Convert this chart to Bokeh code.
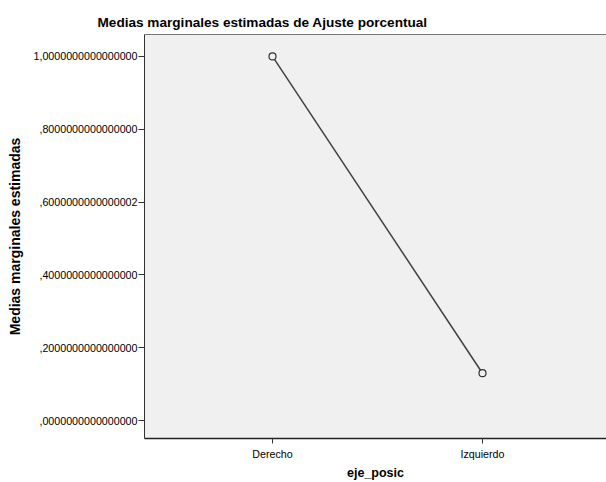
from bokeh.plotting import figure
from bokeh.models import FixedTicker, Range1d, LinearAxis, ColumnDataSource
from bokeh.embed import file_html
from bokeh.resources import INLINE

categories = ["Derecho", "Izquierdo"]
means = [1.0, 0.13]
y_ticks = [0.0, 0.2, 0.4, 0.6, 0.8, 1.0]
y_tick_labels = [",0000000000000000", ",2000000000000000", ",4000000000000000",
                 ",6000000000000002", ",8000000000000000", "1,0000000000000000"]

xpos = list(range(len(categories)))
src = ColumnDataSource(data=dict(x=xpos, y=means, cat=categories))

fam = "Liberation Sans"
p = figure(width=606, height=482, output_backend="svg", toolbar_location=None,
           x_range=Range1d(-0.6095, 1.5905), y_range=Range1d(-0.0493, 1.0603),
           min_border_left=144, min_border_right=0, min_border_top=34, min_border_bottom=43)
p.background_fill_color = "#f0f0f0"
p.border_fill_color = "white"
p.outline_line_color = None
p.xgrid.visible = False
p.ygrid.visible = False

p.title.text = "Medias marginales estimadas de Ajuste porcentual"
p.title.text_font = fam
p.title.text_font_style = "bold"
p.title.text_font_size = "13.6px"
p.title.text_color = "#000000"
p.title.align = "left"
p.title.offset = -47

p.line("x", "y", source=src, line_color="#404040", line_width=1.5)
p.scatter("x", "y", source=src, size=7, fill_color="#f0f0f0", line_color="#333333", line_width=1.2)

p.yaxis.ticker = FixedTicker(ticks=y_ticks)
p.yaxis.major_label_overrides = {t: l for t, l in zip(y_ticks, y_tick_labels)}
p.yaxis.minor_tick_line_color = None
p.yaxis.major_tick_in = 0
p.yaxis.major_tick_out = 6
p.yaxis.major_label_standoff = 1
p.yaxis.major_label_text_font = fam
p.yaxis.major_label_text_font_size = "10.7px"
p.yaxis.major_label_text_color = "#000000"
p.yaxis.axis_line_color = "#333333"
p.yaxis.major_tick_line_color = "#333333"
p.yaxis.axis_label = "Medias marginales estimadas"
p.yaxis.axis_label_text_font = fam
p.yaxis.axis_label_text_font_style = "bold"
p.yaxis.axis_label_text_font_size = "14px"
p.yaxis.axis_label_text_color = "#000000"
p.yaxis.axis_label_standoff = 7

p.xaxis.ticker = FixedTicker(ticks=xpos)
p.xaxis.major_label_overrides = {i: c for i, c in zip(xpos, categories)}
p.xaxis.minor_tick_line_color = None
p.xaxis.major_tick_in = 0
p.xaxis.major_tick_out = 5
p.xaxis.major_label_standoff = 4
p.xaxis.major_label_text_font = fam
p.xaxis.major_label_text_font_size = "10.7px"
p.xaxis.major_label_text_color = "#000000"
p.xaxis.axis_line_color = "#222222"
p.xaxis.axis_line_width = 1.5
p.xaxis.major_tick_line_color = "#333333"
p.xaxis.axis_label = "eje_posic"
p.xaxis.axis_label_text_font = fam
p.xaxis.axis_label_text_font_style = "bold"
p.xaxis.axis_label_text_font_size = "12.5px"
p.xaxis.axis_label_text_color = "#000000"
p.xaxis.axis_label_standoff = 3

top = LinearAxis(major_tick_line_color=None, minor_tick_line_color=None,
                 major_label_text_font_size="0px", axis_line_color="#777777")
top.ticker = FixedTicker(ticks=[])
p.add_layout(top, "above")

open("out.html", "w").write(file_html(p, INLINE))
